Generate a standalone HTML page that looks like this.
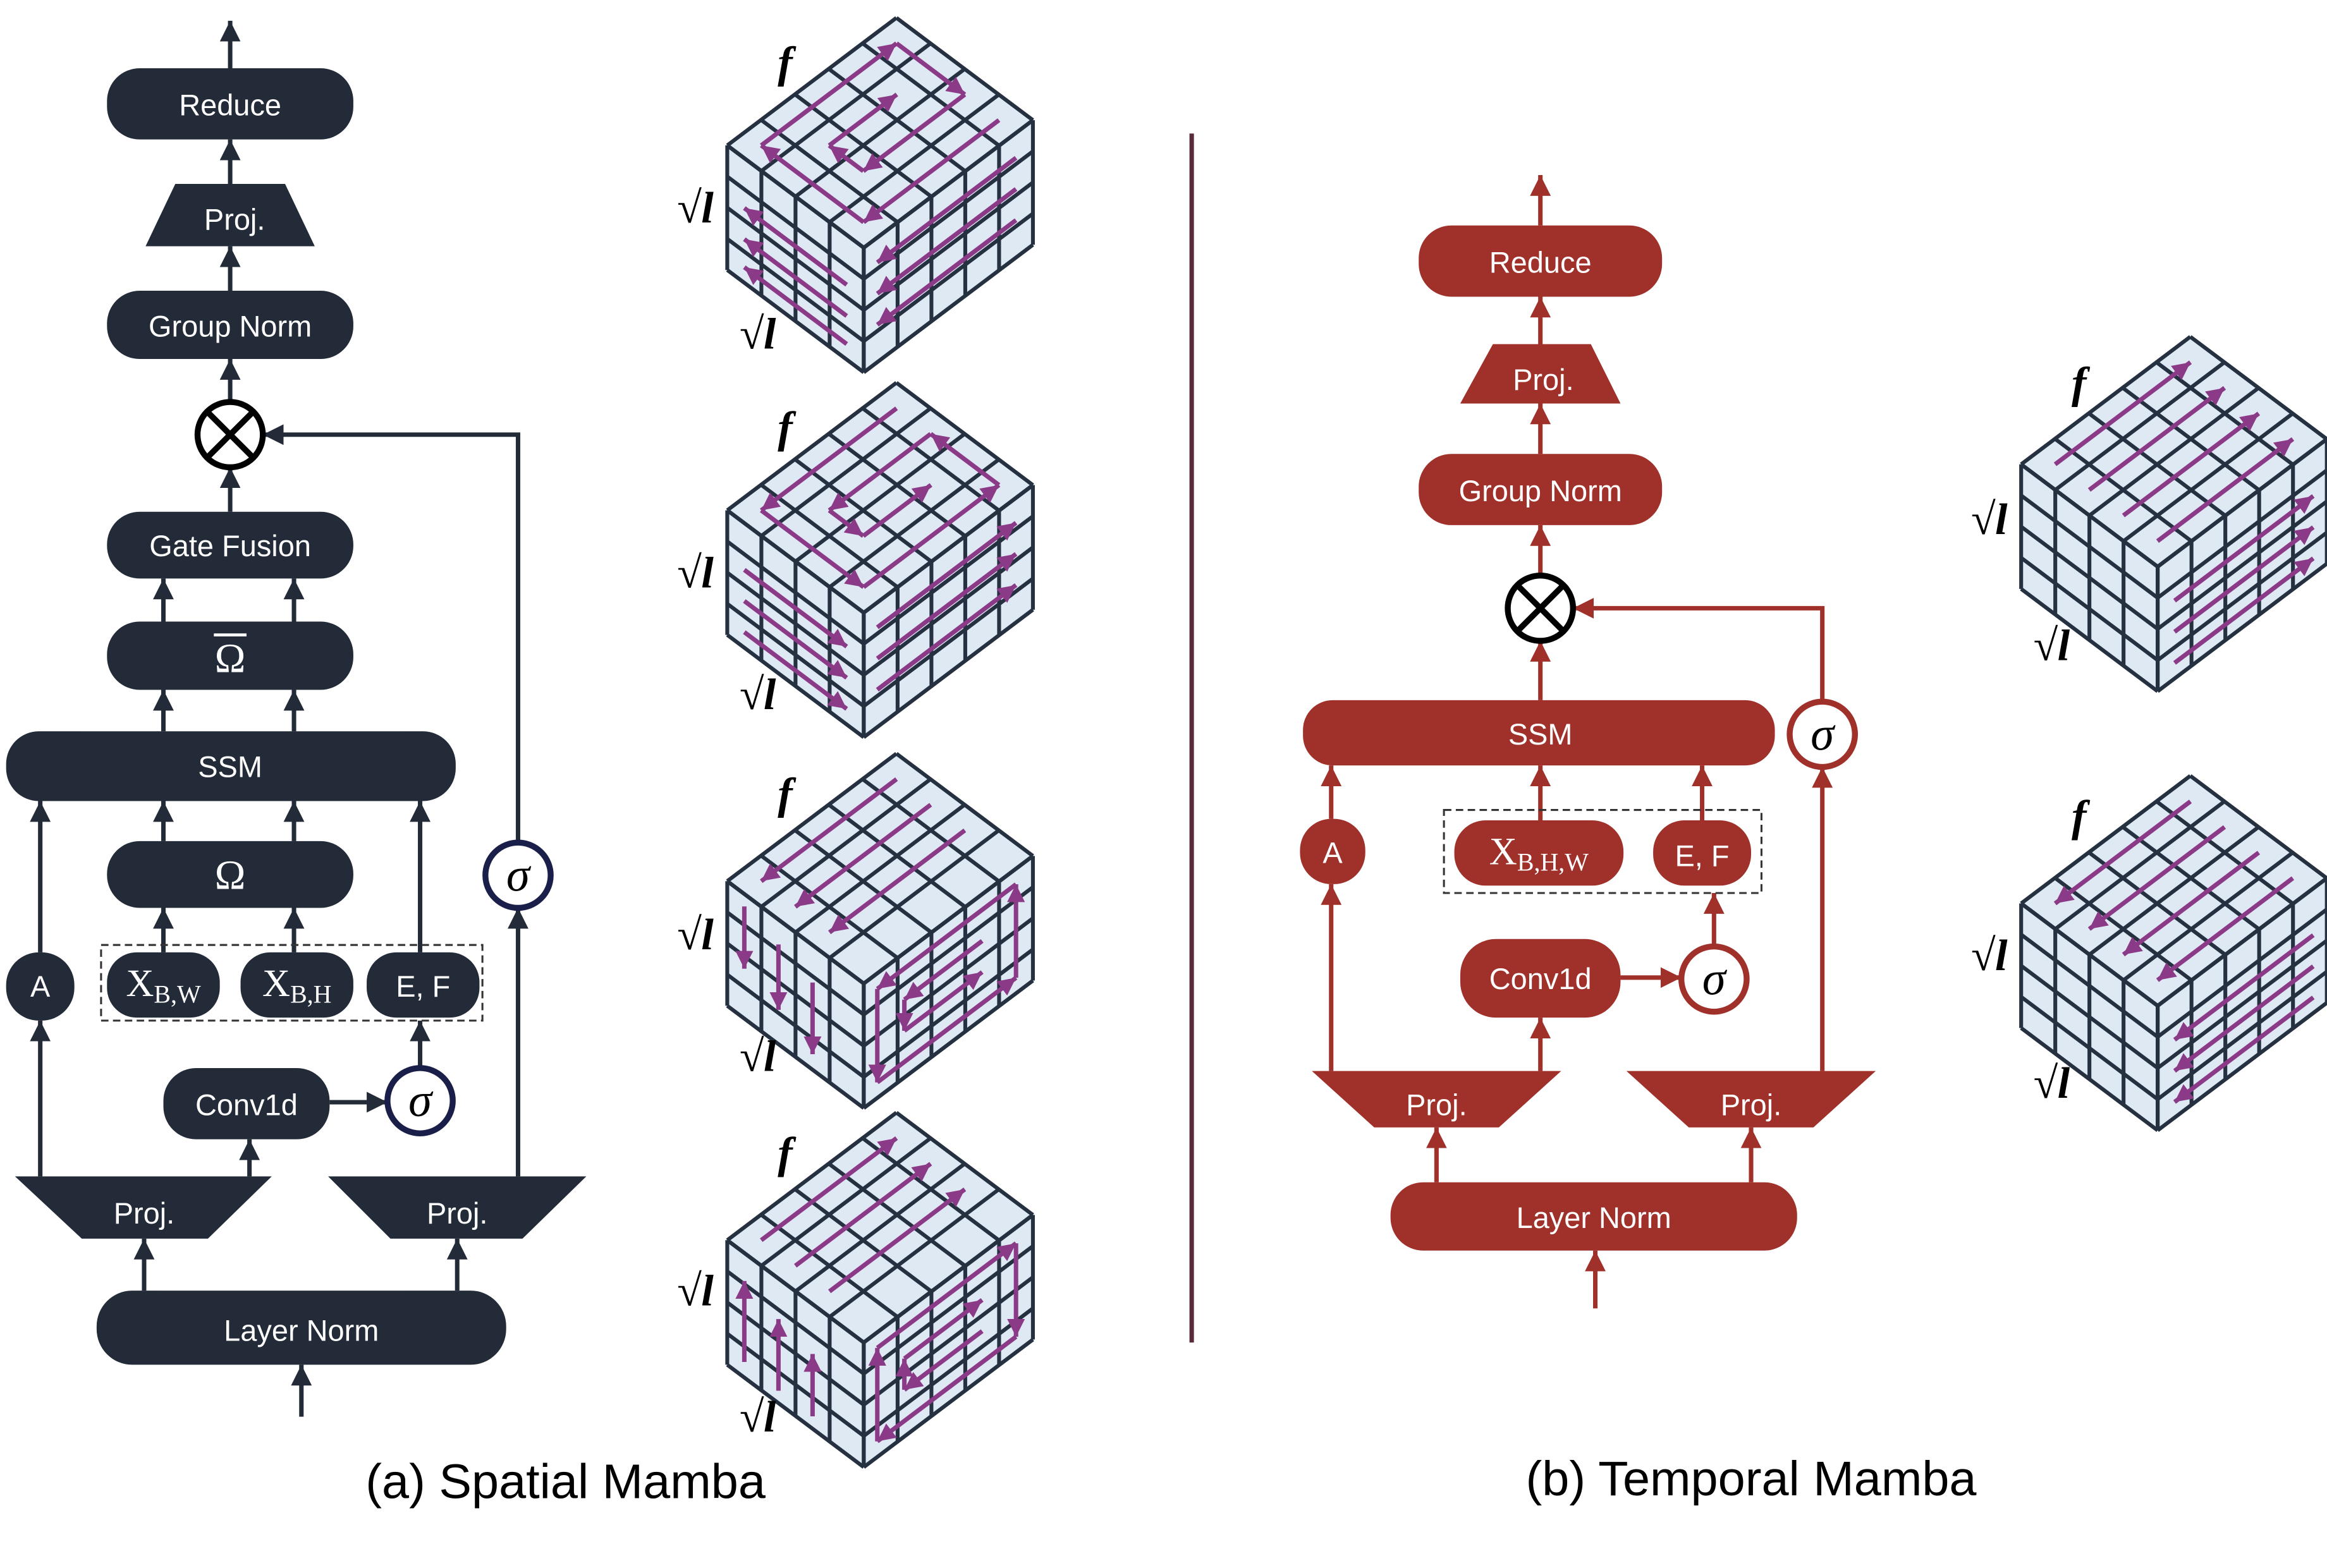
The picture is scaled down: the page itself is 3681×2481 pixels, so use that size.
<!DOCTYPE html>
<html><head><meta charset="utf-8"><style>
html,body{margin:0;padding:0;background:#fff}
svg{display:block}
.t{font-family:"Liberation Sans",sans-serif;fill:#fff;font-size:20px;text-anchor:middle;dominant-baseline:central}
.s{font-family:"Liberation Serif",serif;fill:#fff;text-anchor:middle;dominant-baseline:central}
.m{font-family:"Liberation Serif",serif;font-style:italic;font-weight:bold;fill:#000;font-size:30px}
.cap{font-family:"Liberation Sans",sans-serif;font-size:33px;fill:#000;text-anchor:middle}
</style></head><body>
<svg id="sv" width="3681" height="2481" viewBox="0 0 1568 1057" xmlns="http://www.w3.org/2000/svg">
<defs>
<marker id="ad" markerUnits="userSpaceOnUse" markerWidth="16" markerHeight="16" refX="14" refY="7" orient="auto"><path d="M0,0L14,7L0,14z" fill="#232b38"/></marker>
<marker id="ar" markerUnits="userSpaceOnUse" markerWidth="16" markerHeight="16" refX="14" refY="7" orient="auto"><path d="M0,0L14,7L0,14z" fill="#a0302a"/></marker>
<marker id="ap" markerUnits="userSpaceOnUse" markerWidth="14" markerHeight="14" refX="12" refY="6" orient="auto"><path d="M0,0L12,6L0,12z" fill="#8b3a87"/></marker>
</defs>
<g id="arrows"></g>
<g id="cubes"></g>
<!-- left diagram -->
<g fill="#232b38">
<rect x="72" y="46" width="166" height="48" rx="22"/>
<path d="M118,124L192,124L212,166L98,166z"/>
<rect x="72" y="196" width="166" height="46" rx="22"/>
<rect x="72" y="345" width="166" height="45" rx="22"/>
<rect x="72" y="419" width="166" height="46" rx="22"/>
<rect x="4" y="493" width="303" height="47" rx="22"/>
<rect x="72" y="567" width="166" height="45" rx="22"/>
<rect x="4" y="642" width="46" height="46" rx="22"/>
<rect x="72" y="642" width="76" height="44" rx="20"/>
<rect x="162" y="642" width="76" height="44" rx="20"/>
<rect x="247" y="642" width="76" height="44" rx="20"/>
<rect x="110" y="720" width="112" height="48" rx="22"/>
<path d="M10,793L183,793L140,835L55,835z"/>
<path d="M221,793L395,793L352,835L263,835z"/>
<rect x="65" y="870" width="276" height="50" rx="24"/>
</g>
<rect x="68" y="637" width="257" height="51" fill="none" stroke="#333" stroke-width="1.3" stroke-dasharray="5,3"/>
<circle cx="155" cy="293" r="22" fill="#fff" stroke="#000" stroke-width="4"/>
<path d="M140,278L170,308M170,278L140,308" stroke="#000" stroke-width="4"/>
<circle cx="349" cy="590" r="22" fill="#fff" stroke="#1a1f4a" stroke-width="4"/>
<circle cx="283" cy="742" r="22" fill="#fff" stroke="#1a1f4a" stroke-width="4"/>
<text class="t" x="155" y="71">Reduce</text>
<text class="t" x="158" y="148">Proj.</text>
<text class="t" x="155" y="220">Group Norm</text>
<text class="t" x="155" y="368">Gate Fusion</text>
<text class="s" x="155" y="444" font-size="28">Ω</text>
<line x1="144" y1="428" x2="166" y2="428" stroke="#fff" stroke-width="2"/>
<text class="t" x="155" y="517">SSM</text>
<text class="s" x="155" y="590" font-size="28">Ω</text>
<text class="t" x="27" y="665">A</text>
<text class="s" x="110" y="663" font-size="26"><tspan>X</tspan><tspan font-size="17" dy="7">B,W</tspan></text>
<text class="s" x="200" y="663" font-size="26"><tspan>X</tspan><tspan font-size="17" dy="7">B,H</tspan></text>
<text class="t" x="285" y="665">E, F</text>
<text class="t" x="166" y="745">Conv1d</text>
<text class="t" x="97" y="818">Proj.</text>
<text class="t" x="308" y="818">Proj.</text>
<text class="t" x="203" y="897">Layer Norm</text>
<text class="s" x="349" y="590" font-size="32" font-style="italic" fill="#000" style="fill:#000">σ</text>
<text class="s" x="283" y="742" font-size="32" font-style="italic" style="fill:#000">σ</text>
<text class="cap" x="381" y="1010">(a) Spatial Mamba</text>
<line x1="803" y1="90" x2="803" y2="905" stroke="#5a2a3a" stroke-width="3"/>
<!-- right diagram -->
<g fill="#a0302a">
<rect x="956" y="152" width="164" height="48" rx="22"/>
<path d="M1006,232L1072,232L1092,272L984,272z"/>
<rect x="956" y="306" width="164" height="48" rx="22"/>
<rect x="878" y="472" width="318" height="44" rx="20"/>
<rect x="876" y="552" width="44" height="44" rx="21"/>
<rect x="980" y="553" width="114" height="44" rx="21"/>
<rect x="1114" y="553" width="66" height="44" rx="21"/>
<rect x="984" y="633" width="108" height="53" rx="24"/>
<path d="M884,722L1052,722L1010,760L926,760z"/>
<path d="M1096,722L1264,722L1222,760L1138,760z"/>
<rect x="937" y="797" width="274" height="46" rx="22"/>
</g>
<rect x="973" y="546" width="214" height="56" fill="none" stroke="#333" stroke-width="1.3" stroke-dasharray="5,3"/>
<circle cx="1038" cy="410" r="22" fill="#fff" stroke="#000" stroke-width="4"/>
<path d="M1023,395L1053,425M1053,395L1023,425" stroke="#000" stroke-width="4"/>
<circle cx="1228" cy="495" r="22" fill="#fff" stroke="#a0302a" stroke-width="4"/>
<circle cx="1155" cy="660" r="22" fill="#fff" stroke="#a0302a" stroke-width="4"/>
<text class="t" x="1038" y="177">Reduce</text>
<text class="t" x="1040" y="256">Proj.</text>
<text class="t" x="1038" y="331">Group Norm</text>
<text class="t" x="1038" y="495">SSM</text>
<text class="t" x="898" y="575">A</text>
<text class="s" x="1037" y="574" font-size="26"><tspan>X</tspan><tspan font-size="17" dy="7">B,H,W</tspan></text>
<text class="t" x="1147" y="577">E, F</text>
<text class="t" x="1038" y="660">Conv1d</text>
<text class="t" x="968" y="745">Proj.</text>
<text class="t" x="1180" y="745">Proj.</text>
<text class="t" x="1074" y="821">Layer Norm</text>
<text class="s" x="1228" y="495" font-size="32" font-style="italic" style="fill:#000">σ</text>
<text class="s" x="1155" y="660" font-size="32" font-style="italic" style="fill:#000">σ</text>
<text class="cap" x="1180" y="1008">(b) Temporal Mamba</text>
<!-- cube labels -->
<text class="m" x="524" y="52">f</text><text class="m" x="456" y="150">√<tspan font-style="italic">l</tspan></text><text class="m" x="498" y="235">√l</text>
<text class="m" x="524" y="298">f</text><text class="m" x="456" y="396">√l</text><text class="m" x="498" y="478">√l</text>
<text class="m" x="524" y="545">f</text><text class="m" x="456" y="640">√l</text><text class="m" x="498" y="722">√l</text>
<text class="m" x="524" y="787">f</text><text class="m" x="456" y="880">√l</text><text class="m" x="498" y="965">√l</text>
<text class="m" x="1396" y="268">f</text><text class="m" x="1328" y="360">√l</text><text class="m" x="1370" y="445">√l</text>
<text class="m" x="1396" y="560">f</text><text class="m" x="1328" y="654">√l</text><text class="m" x="1370" y="740">√l</text>
</svg>
<script>
var NS="http://www.w3.org/2000/svg";
function el(p,tag,at){var e=document.createElementNS(NS,tag);for(var k in at)e.setAttribute(k,at[k]);p.appendChild(e);return e;}
var A=document.getElementById("arrows");
function arr(pts,c){var m=c=="r"?"url(#ar)":"url(#ad)";el(A,"polyline",{points:pts.map(function(p){return p.join(",")}).join(" "),fill:"none",stroke:c=="r"?"#a0302a":"#232b38","stroke-width":3,"marker-end":m});}
// left
arr([[155,46],[155,14]]);arr([[155,124],[155,94]]);arr([[155,196],[155,166]]);arr([[155,271],[155,242]]);
arr([[155,345],[155,315]]);arr([[349,568],[349,293],[177,293]]);
arr([[110,419],[110,390]]);arr([[198,419],[198,390]]);arr([[110,493],[110,465]]);arr([[198,493],[198,465]]);
arr([[27,642],[27,540]]);arr([[110,567],[110,540]]);arr([[198,567],[198,540]]);arr([[283,642],[283,540]]);
arr([[110,642],[110,612]]);arr([[198,642],[198,612]]);arr([[283,720],[283,688]]);
arr([[222,743],[261,743]]);arr([[168,793],[168,768]]);arr([[27,793],[27,688]]);arr([[349,793],[349,612]]);
arr([[97,870],[97,835]]);arr([[308,870],[308,835]]);arr([[203,955],[203,920]]);
// right
arr([[1038,152],[1038,118]],"r");arr([[1038,232],[1038,200]],"r");arr([[1038,306],[1038,272]],"r");arr([[1038,388],[1038,354]],"r");
arr([[1228,473],[1228,410],[1060,410]],"r");arr([[1038,472],[1038,432]],"r");
arr([[897,552],[897,516]],"r");arr([[1038,553],[1038,516]],"r");arr([[1147,553],[1147,516]],"r");
arr([[1155,638],[1155,602]],"r");arr([[1092,659],[1133,659]],"r");arr([[1038,722],[1038,686]],"r");
arr([[897,722],[897,596]],"r");arr([[1228,722],[1228,517]],"r");
arr([[968,797],[968,760]],"r");arr([[1180,797],[1180,760]],"r");arr([[1075,882],[1075,843]],"r");
// cubes
var C=document.getElementById("cubes");
var ax=92,ay=69,bx=114,by=-86,h=84;
function cube(Lx,Ly,paths){
 var g=el(C,"g",{});
 var st={stroke:"#253040","stroke-width":2.6,fill:"none","stroke-linejoin":"round"};
 function T(s,t){return [Lx+s*ax/4+t*bx/5,Ly+s*ay/4+t*by/5];}
 function Lf(s,z){return [Lx+s*ax/4,Ly+s*ay/4+z*h/4];}
 function Rf(t,z){return [Lx+ax+t*bx/5,Ly+ay+t*by/5+z*h/4];}
 function poly(pts){return pts.map(function(p){return p.join(",")}).join(" ");}
 el(g,"polygon",{points:poly([T(0,0),T(4,0),T(4,5),T(0,5)]),fill:"#dfe9f4"});
 el(g,"polygon",{points:poly([Lf(0,0),Lf(4,0),Lf(4,4),Lf(0,4)]),fill:"#dfe9f4"});
 el(g,"polygon",{points:poly([Rf(0,0),Rf(5,0),Rf(5,4),Rf(0,4)]),fill:"#dfe9f4"});
 function ln(p,q){var o=Object.assign({},st);o.points=poly([p,q]);el(g,"polyline",o);}
 for(var i=0;i<=4;i++){ln(T(i,0),T(i,5));ln(Lf(i,0),Lf(i,4));ln(Lf(0,i),Lf(4,i));ln(Rf(0,i),Rf(5,i));}
 for(var j=0;j<=5;j++){ln(T(0,j),T(4,j));ln(Rf(j,0),Rf(j,4));}
 var F={T:T,L:Lf,R:Rf};
 paths.forEach(function(p){var f=F[p[0]];var pts=p.slice(1).map(function(q){return f(q[0],q[1]);});
  for(var k=0;k<pts.length-1;k++)el(g,"polyline",{points:poly([pts[k],pts[k+1]]),stroke:"#8b3a87","stroke-width":3,fill:"none","marker-end":"url(#ap)"});});
}
cube(490,98,[["T",[3.5,4.5],[3.5,0.5],[0.5,0.5],[0.5,4.5],[2.5,4.5],[2.5,1.5],[1.5,1.5],[1.5,3.5]],
 ["L",[3.5,1.6],[0.5,1.6]],["L",[3.5,2.6],[0.5,2.6]],["L",[3.5,3.5],[0.5,3.5]],
 ["R",[4.5,0.8],[0.4,0.8]],["R",[4.5,1.8],[0.4,1.8]],["R",[4.5,2.8],[0.4,2.8]]]);
cube(490,344,[["T",[0.5,4.5],[0.5,0.5],[3.5,0.5],[3.5,4.5],[1.5,4.5],[1.5,1.5],[2.5,1.5],[2.5,3.5]],
 ["L",[0.5,1.5],[3.5,1.5]],["L",[0.5,2.5],[3.5,2.5]],["L",[0.5,3.5],[3.5,3.5]],
 ["R",[0.4,0.8],[4.5,0.8]],["R",[0.4,1.8],[4.5,1.8]],["R",[0.4,2.8],[4.5,2.8]]]);
cube(490,594,[["T",[0.5,4.5],[0.5,0.5]],["T",[1.5,4.5],[1.5,0.5]],["T",[2.5,4.5],[2.5,0.5]],
 ["L",[0.5,0.4],[0.5,2.4]],["L",[1.5,0.8],[1.5,2.9]],["L",[2.5,1.2],[2.5,3.5]],
 ["R",[4.5,0.5],[0.4,0.5],[0.4,3.5],[4.5,3.5],[4.5,0.5]],["R",[3.5,1.5],[1.2,1.5],[1.2,2.5],[3.5,2.5]]]);
cube(490,836,[["T",[0.5,0.5],[0.5,4.5]],["T",[1.5,0.5],[1.5,4.5]],["T",[2.5,0.5],[2.5,4.5]],
 ["L",[0.5,3.5],[0.5,0.9]],["L",[1.5,3.6],[1.5,1.3]],["L",[2.5,3.6],[2.5,1.6]],
 ["R",[0.4,3.5],[0.4,0.5],[4.5,0.5],[4.5,3.5],[0.4,3.5]],["R",[3.5,2.5],[1.2,2.5],[1.2,1.5],[3.5,1.5]]]);
cube(1362,313,[["T",[0.5,0.5],[0.5,4.5]],["T",[1.5,0.5],[1.5,4.5]],["T",[2.5,0.5],[2.5,4.5]],["T",[3.5,0.5],[3.5,4.5]],
 ["R",[0.5,1.5],[4.6,1.5]],["R",[0.5,2.5],[4.6,2.5]],["R",[0.5,3.5],[4.6,3.5]]]);
cube(1362,609,[["T",[0.5,4.5],[0.5,0.5]],["T",[1.5,4.5],[1.5,0.5]],["T",[2.5,4.5],[2.5,0.5]],["T",[3.5,4.5],[3.5,0.5]],
 ["R",[4.6,1.5],[0.5,1.5]],["R",[4.6,2.5],[0.5,2.5]],["R",[4.6,3.5],[0.5,3.5]]]);
</script>
</body></html>
